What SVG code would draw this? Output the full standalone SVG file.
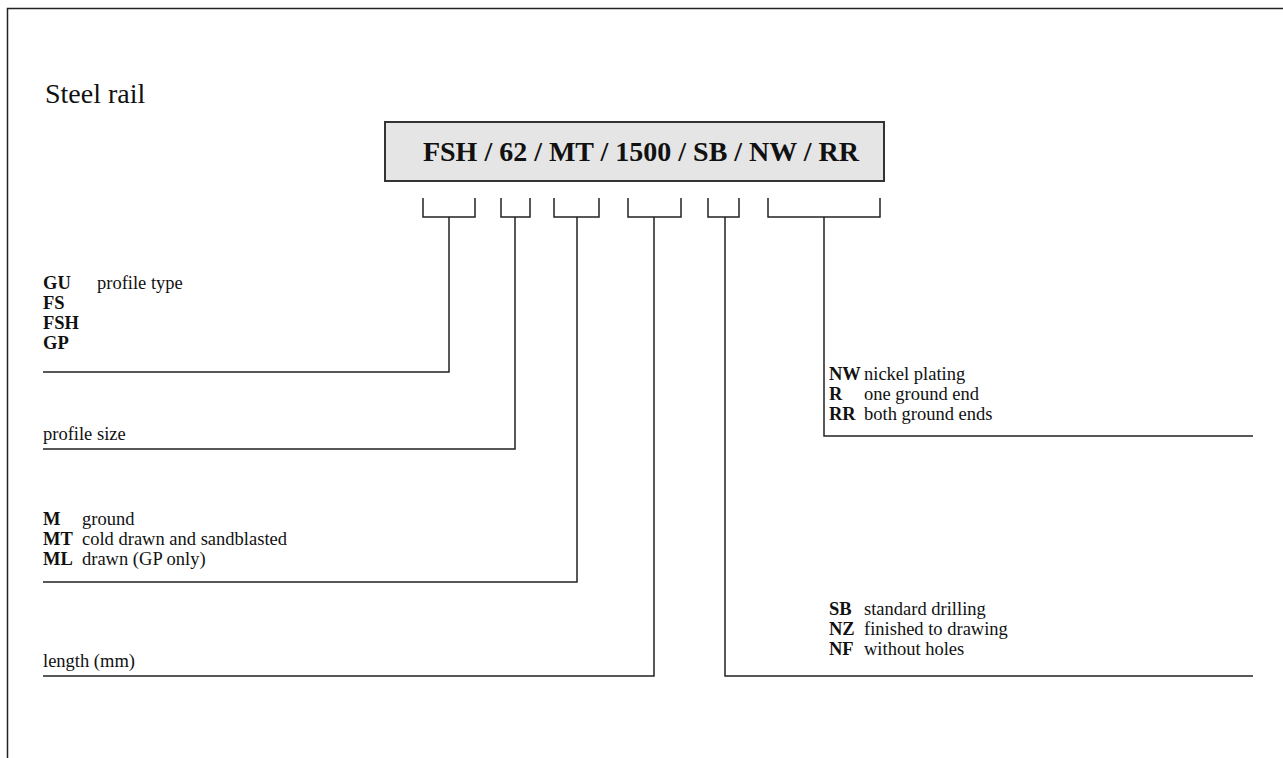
<svg xmlns="http://www.w3.org/2000/svg" width="1283" height="758" viewBox="0 0 1283 758">
<style>
text{font-family:"Liberation Serif","Times New Roman",serif;fill:#111}
.t{font-size:18.5px}
.b{font-weight:bold}
.ln{stroke:#222;stroke-width:1.5;fill:none}
</style>
<rect x="0" y="0" width="1283" height="758" fill="#fff"/>
<g id="frame"><path class="ln" d="M7.5,758 V8.5 H1283" stroke-width="2"/></g>
<text id="title" x="45" y="103" style="font-size:28px">Steel rail</text>
<g id="code">
<rect x="385" y="122" width="499" height="59" fill="#e5e5e5" stroke="#333" stroke-width="2"/>
<text x="641" y="161" text-anchor="middle" class="b" style="font-size:28px">FSH / 62 / MT / 1500 / SB / NW / RR</text>
</g>
<g id="connectors">
<path class="ln" d="M423,198 V217 H475 V198 M449,217 V372 H43"/>
<path class="ln" d="M501,198 V217 H530 V198 M515,217 V449 H43"/>
<path class="ln" d="M554,198 V217 H599 V198 M577,217 V582 H43"/>
<path class="ln" d="M628,198 V217 H681 V198 M654,217 V676 H43"/>
<path class="ln" d="M708,198 V217 H739 V198 M725,217 V676 H1253"/>
<path class="ln" d="M768,198 V217 H880 V198 M824,217 V436 H1253"/>
</g>
<g id="profile-type" class="t">
<text x="43" y="289" class="b">GU</text><text x="97" y="289">profile type</text>
<text x="43" y="309" class="b">FS</text>
<text x="43" y="329" class="b">FSH</text>
<text x="43" y="349" class="b">GP</text>
</g>
<g id="profile-size" class="t"><text x="43" y="440">profile size</text></g>
<g id="finish" class="t">
<text x="43" y="525" class="b">M</text><text x="82" y="525">ground</text>
<text x="43" y="545" class="b">MT</text><text x="82" y="545">cold drawn and sandblasted</text>
<text x="43" y="565" class="b">ML</text><text x="82" y="565">drawn (GP only)</text>
</g>
<g id="length" class="t"><text x="43" y="667">length (mm)</text></g>
<g id="plating" class="t">
<text x="829" y="380" class="b">NW</text><text x="864" y="380">nickel plating</text>
<text x="829" y="400" class="b">R</text><text x="864" y="400">one ground end</text>
<text x="829" y="420" class="b">RR</text><text x="864" y="420">both ground ends</text>
</g>
<g id="drilling" class="t">
<text x="829" y="615" class="b">SB</text><text x="864" y="615">standard drilling</text>
<text x="829" y="635" class="b">NZ</text><text x="864" y="635">finished to drawing</text>
<text x="829" y="655" class="b">NF</text><text x="864" y="655">without holes</text>
</g>
</svg>
